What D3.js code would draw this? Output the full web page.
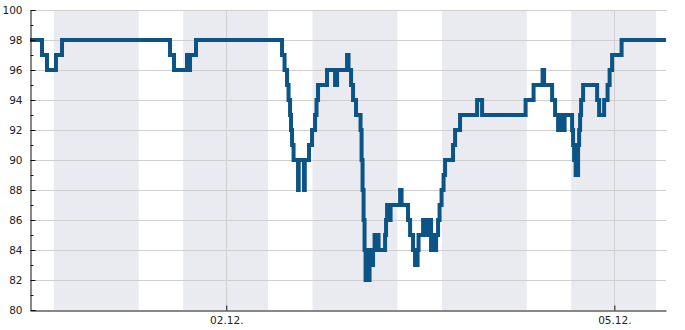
<!DOCTYPE html>
<html>
<head>
<meta charset="utf-8">
<script src="https://cdn.jsdelivr.net/npm/d3@7"></script>
<style>
    body { margin: 0; background: #fff; }
    svg text { font-family: 'DejaVu Sans', sans-serif; font-size: 10.5px; fill: #222; }
</style>
</head>
<body>
<div id="chart"></div>
<script>
var width = 685;
var height = 330;
var margin = { top: 10, right: 19, bottom: 20, left: 30 };

// hours after 30.11. 11:35 and the reading from that moment on
var startTime = '2023-11-30T11:35:00Z';
var spanHours = 118;
var hours = [
    0, 2.23, 3.15, 4.82, 5.94, 25.98, 26.72, 29.13, 29.41, 29.69, 30.80,
    46.76, 47.23, 47.69, 47.97, 48.25, 48.43, 48.62, 48.90, 49.73, 49.86,
    50.84, 50.98, 51.77, 52.33, 52.89, 53.16, 53.44, 55.11, 56.60, 56.97,
    58.82, 59.10, 59.57, 59.94, 60.49, 61.33, 61.52, 61.70, 61.89, 62.07,
    62.26, 62.54, 62.72, 63.00, 63.28, 63.65, 63.93, 64.21, 64.48, 64.67,
    65.88, 66.06, 66.25, 66.62, 66.90, 68.66, 68.94, 70.14, 70.52, 71.07,
    71.44, 71.91, 72.09, 72.93, 73.11, 73.30, 73.48, 73.67, 73.86, 74.23,
    74.41, 74.88, 75.06, 75.34, 75.71, 75.99, 76.36, 76.73, 77.01, 78.49,
    78.87, 79.79, 82.95, 83.88, 91.95, 93.43, 95.10, 95.38, 96.87, 97.42,
    97.98, 98.54, 98.72, 99.19, 100.58, 100.76, 100.95, 101.23, 101.69, 101.88,
    102.06, 102.25, 102.62, 105.22, 105.59, 106.52, 107.16, 107.54, 108.00, 109.76,
    118.00
];
var values = [
    98, 97, 96, 97, 98, 97, 96, 97, 96, 97, 98,
    97, 96, 95, 94, 93, 92, 91, 90, 88, 90,
    88, 90, 91, 92, 93, 94, 95, 96, 95, 96,
    97, 96, 95, 94, 93, 92, 90, 88, 86, 84,
    82, 83, 82, 84, 83, 84, 85, 84, 85, 84,
    85, 86, 87, 86, 87, 88, 87, 86, 85, 84,
    83, 84, 85, 86, 85, 86, 85, 86, 85, 86,
    84, 85, 84, 85, 86, 87, 88, 89, 90, 91,
    92, 93, 94, 93, 94, 95, 96, 95, 94, 93,
    92, 93, 92, 93, 92, 91, 90, 89, 91, 92,
    93, 94, 95, 94, 93, 94, 95, 96, 97, 98,
    98
];

// night shading: 16:00 until 07:45 next morning
var nightStarts = ['2023-11-30T16:00:00Z', '2023-12-01T16:00:00Z', '2023-12-02T16:00:00Z',
    '2023-12-03T16:00:00Z', '2023-12-04T16:00:00Z'];
var nightHours = 15.75;

var xTicks = ['2023-12-02T00:00:00Z', '2023-12-05T00:00:00Z'];
var yTicks = [80, 82, 84, 86, 88, 90, 92, 94, 96, 98, 100];
var yMinorTicks = [81, 83, 85, 87, 89, 91, 93, 95, 97, 99];

var hourMs = 3600 * 1000;
var t0 = new Date(startTime);
var data = hours.map((h, i) => ({ t: new Date(t0.getTime() + h * hourMs), v: values[i] }));

var svg = d3.select('#chart')
    .append('svg')
    .attr('width', width)
    .attr('height', height);

var x = d3.scaleUtc()
    .domain([t0, new Date(t0.getTime() + spanHours * hourMs)])
    .range([margin.left, width - margin.right]);

var y = d3.scaleLinear()
    .domain([80, 100])
    .range([height - margin.bottom, margin.top]);

// night bands
svg.append('g')
    .selectAll('rect')
    .data(nightStarts.map((d) => new Date(d)))
    .enter()
    .append('rect')
    .attr('x', (d) => x(d))
    .attr('y', y(100))
    .attr('width', (d) => x(new Date(d.getTime() + nightHours * hourMs)) - x(d))
    .attr('height', y(80) - y(100))
    .attr('fill', '#eaebf1');

// grid
svg.append('g')
    .selectAll('line')
    .data(yTicks.slice(1))
    .enter()
    .append('line')
    .attr('x1', x.range()[0])
    .attr('x2', x.range()[1])
    .attr('y1', (d) => y(d) + 0.5)
    .attr('y2', (d) => y(d) + 0.5)
    .attr('stroke', '#cfcfcf');

svg.append('g')
    .selectAll('line')
    .data(xTicks.map((d) => new Date(d)))
    .enter()
    .append('line')
    .attr('x1', (d) => Math.round(x(d)) + 0.5)
    .attr('x2', (d) => Math.round(x(d)) + 0.5)
    .attr('y1', y(100))
    .attr('y2', y(80))
    .attr('stroke', '#cfcfcf');

// series
var line = d3.line()
    .x((d) => x(d.t))
    .y((d) => y(d.v))
    .curve(d3.curveStepAfter);

svg.append('path')
    .datum(data)
    .attr('d', line)
    .attr('fill', 'none')
    .attr('stroke', '#0b5485')
    .attr('stroke-width', 4);

// axes
var yAxis = d3.axisLeft(y)
    .tickValues(yTicks)
    .tickSize(-5)
    .tickPadding(8)
    .tickFormat(d3.format('d'));

svg.append('g')
    .attr('transform', `translate(${margin.left + 0.5}, 0)`)
    .call(yAxis)
    .call((g) => g.select('.domain').attr('stroke', '#111'))
    .call((g) => g.selectAll('.tick line').attr('stroke', '#111'));

svg.append('g')
    .attr('transform', `translate(${margin.left + 0.5}, 0)`)
    .selectAll('line')
    .data(yMinorTicks)
    .enter()
    .append('line')
    .attr('x1', 0)
    .attr('x2', 3)
    .attr('y1', (d) => y(d) + 0.5)
    .attr('y2', (d) => y(d) + 0.5)
    .attr('stroke', '#111');

var xAxis = d3.axisBottom(x)
    .tickValues(xTicks.map((d) => new Date(d)))
    .tickSize(-5)
    .tickPadding(6)
    .tickSizeOuter(0)
    .tickFormat(d3.utcFormat('%d.%m.'));

svg.append('g')
    .attr('transform', `translate(0, ${height - margin.bottom + 0.5})`)
    .call(xAxis)
    .call((g) => g.select('.domain').attr('stroke', '#111'))
    .call((g) => g.selectAll('.tick line').attr('stroke', '#111'));

svg.selectAll('.tick text').style('font-family', "'DejaVu Sans', sans-serif").style('font-size', '10.5px');
</script>
</body>
</html>
